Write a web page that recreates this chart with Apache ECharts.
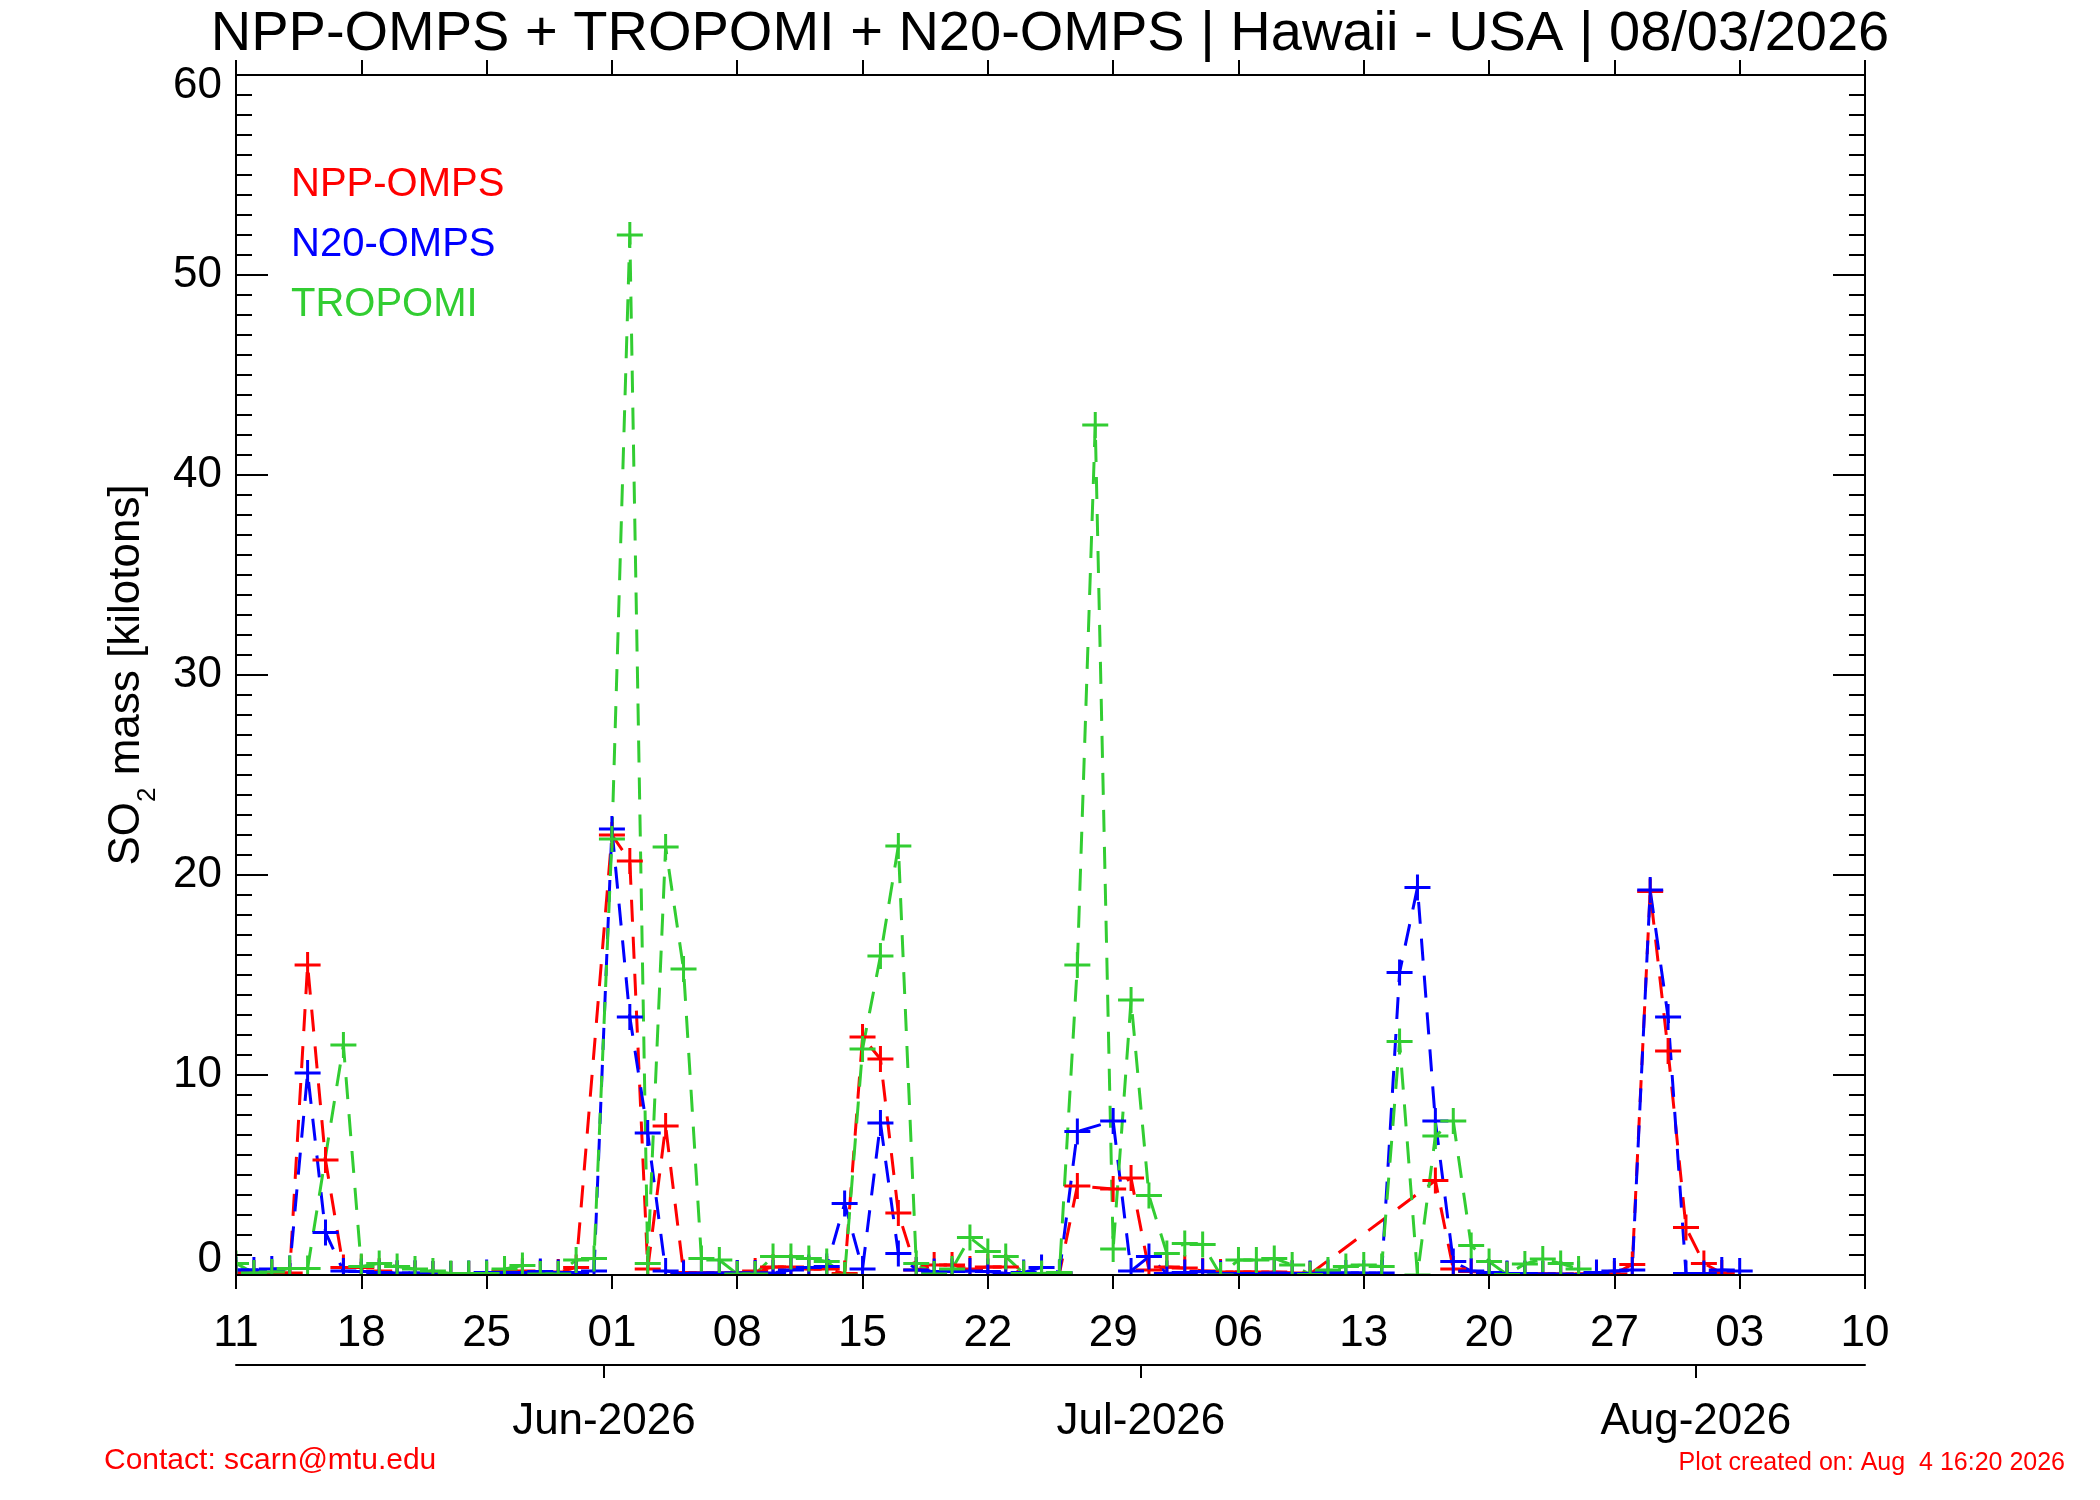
<!DOCTYPE html>
<html>
<head>
    <meta charset="utf-8">
    <title>SO2 mass - Hawaii</title>
    <script src="https://cdn.jsdelivr.net/npm/echarts@6/dist/echarts.min.js"></script>
    <style>
        html, body { margin: 0; padding: 0; background: #fff; }
        #main { width: 2100px; height: 1500px; }
    </style>
</head>
<body>
    <div id="main"></div>
    <script type="text/javascript">
        // daily dates, May 11 - Aug 03 2026
        var dates = [
            '2026-05-11','2026-05-12','2026-05-13','2026-05-14','2026-05-15','2026-05-16','2026-05-17',
            '2026-05-18','2026-05-19','2026-05-20','2026-05-21','2026-05-22','2026-05-23','2026-05-24',
            '2026-05-25','2026-05-26','2026-05-27','2026-05-28','2026-05-29','2026-05-30','2026-05-31',
            '2026-06-01','2026-06-02','2026-06-03','2026-06-04','2026-06-05','2026-06-06','2026-06-07',
            '2026-06-08','2026-06-09','2026-06-10','2026-06-11','2026-06-12','2026-06-13','2026-06-14',
            '2026-06-15','2026-06-16','2026-06-17','2026-06-18','2026-06-19','2026-06-20','2026-06-21',
            '2026-06-22','2026-06-23','2026-06-24','2026-06-25','2026-06-26','2026-06-27','2026-06-28',
            '2026-06-29','2026-06-30','2026-07-01','2026-07-02','2026-07-03','2026-07-04','2026-07-05',
            '2026-07-06','2026-07-07','2026-07-08','2026-07-09','2026-07-10','2026-07-11','2026-07-12',
            '2026-07-13','2026-07-14','2026-07-15','2026-07-16','2026-07-17','2026-07-18','2026-07-19',
            '2026-07-20','2026-07-21','2026-07-22','2026-07-23','2026-07-24','2026-07-25','2026-07-26',
            '2026-07-27','2026-07-28','2026-07-29','2026-07-30','2026-07-31','2026-08-01','2026-08-02',
            '2026-08-03'
        ];

        // SO2 mass [kilotons], null = no retrieval that day
        var nppOmps = [
            0.1, 0.1, 0.1, 0.1, 15.5, 5.75, 0.37,
            0.37, 0.2, 0.05, 0.05, 0.05, 0.05, 0.05,
            0.0, 0.2, 0.2, 0.1, 0.15, 0.37, null,
            22.0, 20.7, 0.3, 7.45, 0.13, 0.1, 0.1,
            0.1, 0.2, 0.4, 0.4, 0.3, 0.3, 0.07,
            11.9, 10.8, 3.1, 0.25, 0.5, 0.5, 0.3,
            0.4, 0.4, 0.05, 0.05, 0.08, 4.45, null,
            4.3, 4.85, 0.25, 0.4, 0.35, 0.2, 0.15,
            0.15, 0.15, 0.15, 0.1, 0.05, null, null,
            null, null, null, null, 4.72, 0.3, 0.17,
            0.12, 0.05, 0.05, 0.05, 0.05, 0.05, 0.05,
            0.05, 0.53, 19.17, 11.2, 2.37, 0.58, 0.1,
            null
        ];
        var n20Omps = [
            0.25, 0.25, 0.3, 0.33, 10.1, 2.13, 0.2,
            0.17, 0.13, 0.1, 0.1, 0.05, 0.05, 0.07,
            0.12, 0.12, 0.13, 0.17, 0.13, 0.13, 0.2,
            22.3, 12.9, 7.1, 0.2, 0.08, 0.1, 0.1,
            0.1, 0.1, 0.1, 0.25, 0.37, 0.42, 3.58,
            0.3, 7.6, 1.08, 0.25, 0.17, 0.17, 0.2,
            0.17, 0.08, 0.13, 0.37, 0.13, 7.17, null,
            7.7, 0.2, 0.92, 0.08, 0.13, 0.17, 0.08,
            0.07, 0.07, 0.1, 0.07, 0.07, 0.13, 0.1,
            0.1, 0.1, 15.13, 19.38, 7.7, 0.67, 0.2,
            0.13, 0.08, 0.08, 0.05, 0.05, 0.03, 0.13,
            0.2, 0.25, 19.25, 12.9, 0.08, 0.08, 0.25,
            0.2
        ];
        var tropomi = [
            0.58, 0.1, 0.15, 0.33, 0.33, null, 11.5,
            0.42, 0.58, 0.42, 0.3, 0.2, 0.08, 0.08,
            0.08, 0.3, 0.47, 0.05, 0.05, 0.75, 0.83,
            21.8, 52.0, 0.58, 21.4, 15.3, 0.83, 0.75,
            0.05, 0.05, 0.92, 0.92, 0.83, 0.67, 0.0,
            11.3, 15.95, 21.45, 0.58, 0.05, 0.3, 1.87,
            1.17, 0.92, 0.08, 0.08, 0.13, 15.5, 42.5,
            1.3, 13.75, 3.97, 1.08, 1.58, 1.53, 0.0,
            0.75, 0.75, 0.83, 0.5, 0.03, 0.25, 0.42,
            0.5, 0.42, 11.68, 0.0, 6.95, 7.7, 1.47,
            0.67, 0.03, 0.55, 0.8, 0.58, 0.3, null,
            null, null, null, null, null, null, null,
            null
        ];

        // axis range and labels
        var startDate = '2026-05-11';
        var totalDays = 91;
        var dayTickLabels = ['11', '18', '25', '01', '08', '15', '22', '29', '06', '13', '20', '27', '03', '10'];
        var monthTickDays = [21, 51, 82];
        var monthTickLabels = ['Jun-2026', 'Jul-2026', 'Aug-2026'];
        var yMin = 0, yMax = 60;

        var fontFamily = '"Liberation Sans", Arial, Helvetica, sans-serif';
        var plusSymbol = 'path://M0,11.5H26V14.5H0Z M11.5,0H14.5V26H11.5Z';

        // plot box in pixels
        var gridLeft = 236, gridRight = 235, gridTop = 75, gridBottom = 225;
        var chartW = 2100, chartH = 1500;

        function dayIndex(d) {
            return Math.round((Date.parse(d) - Date.parse(startDate)) / 86400000);
        }
        function toPairs(values) {
            return dates.map(function (d, i) { return [dayIndex(d), values[i]]; });
        }
        function makeSeries(name, color, values) {
            return {
                name: name,
                type: 'line',
                xAxisIndex: 0,
                yAxisIndex: 0,
                data: toPairs(values),
                connectNulls: true,
                symbol: plusSymbol,
                symbolSize: 26,
                showAllSymbol: true,
                itemStyle: { color: color },
                lineStyle: { color: color, width: 3, type: [22, 15] },
                emphasis: { disabled: true },
                z: 3
            };
        }

        var myChart = echarts.init(document.getElementById('main'));

        var axisColor = '#000';
        var axisZ = 10;
        var plotBottomY = chartH - gridBottom;

        myChart.setOption({
            animation: false,
            backgroundColor: '#fff',
            textStyle: { fontFamily: fontFamily },
            title: [
                {
                    text: 'NPP-OMPS + TROPOMI + N20-OMPS | Hawaii - USA | 08/03/2026',
                    left: 'center',
                    top: 2,
                    textStyle: { fontSize: 56, fontWeight: 'normal', color: '#000', fontFamily: fontFamily }
                },
                {
                    text: 'Contact: scarn@mtu.edu',
                    left: 99,
                    top: 1441,
                    textStyle: { fontSize: 30, fontWeight: 'normal', color: '#ff0000', fontFamily: fontFamily }
                },
                {
                    text: 'Plot created on: Aug  4 16:20 2026',
                    right: 30,
                    top: 1446,
                    textStyle: { fontSize: 25, fontWeight: 'normal', color: '#ff0000', fontFamily: fontFamily }
                }
            ],
            legend: {
                orient: 'vertical',
                left: 281,
                top: 160,
                itemWidth: 0,
                itemHeight: 0,
                itemGap: 20,
                selectedMode: false,
                textStyle: { fontSize: 40, fontFamily: fontFamily },
                data: [
                    { name: 'NPP-OMPS', icon: 'rect', textStyle: { color: '#ff0000' } },
                    { name: 'N20-OMPS', icon: 'rect', textStyle: { color: '#0000ff' } },
                    { name: 'TROPOMI', icon: 'rect', textStyle: { color: '#32cd32' } }
                ]
            },
            // white masks so markers sitting on the frame are cut at the axes
            graphic: [
                {
                    type: 'rect',
                    z: 5,
                    silent: true,
                    shape: { x: gridLeft, y: plotBottomY + 1, width: chartW - gridLeft - gridRight, height: 20 },
                    style: { fill: '#fff' }
                },
                {
                    type: 'rect',
                    z: 5,
                    silent: true,
                    shape: { x: gridLeft - 14, y: plotBottomY - 30, width: 13, height: 51 },
                    style: { fill: '#fff' }
                }
            ],
            grid: { left: gridLeft, right: gridRight, top: gridTop, bottom: gridBottom, containLabel: false },
            xAxis: [
                {
                    type: 'value',
                    position: 'bottom',
                    z: axisZ,
                    min: 0,
                    max: totalDays,
                    interval: 7,
                    axisLine: { show: true, onZero: false, lineStyle: { color: axisColor, width: 2 } },
                    axisTick: { show: true, inside: false, length: 14, lineStyle: { color: axisColor, width: 2 } },
                    axisLabel: {
                        margin: 37,
                        fontSize: 44,
                        color: '#000',
                        fontFamily: fontFamily,
                        formatter: function (v) { return dayTickLabels[Math.round(v / 7)]; }
                    },
                    splitLine: { show: false }
                },
                {
                    type: 'value',
                    position: 'top',
                    z: axisZ,
                    min: 0,
                    max: totalDays,
                    interval: 7,
                    axisLine: { show: true, onZero: false, lineStyle: { color: axisColor, width: 2 } },
                    axisTick: { show: true, inside: false, length: 15, lineStyle: { color: axisColor, width: 2 } },
                    axisLabel: { show: false },
                    splitLine: { show: false }
                },
                {
                    type: 'value',
                    position: 'bottom',
                    z: axisZ,
                    offset: 90,
                    min: 0.45,
                    max: totalDays + 0.45,
                    axisLine: { show: true, onZero: false, lineStyle: { color: axisColor, width: 2 } },
                    axisTick: { show: true, inside: false, length: 13, customValues: monthTickDays, lineStyle: { color: axisColor, width: 2 } },
                    axisLabel: {
                        margin: 35,
                        fontSize: 44,
                        color: '#000',
                        fontFamily: fontFamily,
                        customValues: monthTickDays,
                        formatter: function (v) { return monthTickLabels[monthTickDays.indexOf(v)]; }
                    },
                    splitLine: { show: false }
                }
            ],
            yAxis: [
                {
                    type: 'value',
                    position: 'left',
                    z: axisZ,
                    min: yMin,
                    max: yMax,
                    interval: 10,
                    name: 'SO{sub|2} mass [kilotons]',
                    nameLocation: 'middle',
                    nameGap: 87,
                    nameTextStyle: {
                        fontSize: 44,
                        color: '#000',
                        fontFamily: fontFamily,
                        rich: {
                            sub: { fontSize: 26, verticalAlign: 'bottom', padding: [0, 0, -12, 0], fontFamily: fontFamily }
                        }
                    },
                    axisLine: { show: true, onZero: false, lineStyle: { color: axisColor, width: 2 } },
                    axisTick: { show: true, inside: true, length: 32, lineStyle: { color: axisColor, width: 2 } },
                    minorTick: { show: true, splitNumber: 10, length: 16, lineStyle: { color: axisColor, width: 2 } },
                    axisLabel: {
                        margin: 14,
                        fontSize: 44,
                        color: '#000',
                        fontFamily: fontFamily,
                        // end labels are nudged inside the frame, as in the original plot
                        formatter: function (v) {
                            if (v === yMin) return '{lo|' + v + '}';
                            if (v === yMax) return '{hi|' + v + '}';
                            return '' + v;
                        },
                        rich: {
                            lo: { fontSize: 44, fontFamily: fontFamily, color: '#000', padding: [0, 0, 30, 0] },
                            hi: { fontSize: 44, fontFamily: fontFamily, color: '#000', padding: [22, 0, 0, 0] }
                        }
                    },
                    splitLine: { show: false },
                    minorSplitLine: { show: false }
                },
                {
                    type: 'value',
                    position: 'right',
                    z: axisZ,
                    min: yMin,
                    max: yMax,
                    interval: 10,
                    axisLine: { show: true, onZero: false, lineStyle: { color: axisColor, width: 2 } },
                    axisTick: { show: true, inside: true, length: 32, lineStyle: { color: axisColor, width: 2 } },
                    minorTick: { show: true, splitNumber: 10, length: 16, lineStyle: { color: axisColor, width: 2 } },
                    axisLabel: { show: false },
                    splitLine: { show: false }
                }
            ],
            series: [
                makeSeries('NPP-OMPS', '#ff0000', nppOmps),
                makeSeries('N20-OMPS', '#0000ff', n20Omps),
                makeSeries('TROPOMI', '#32cd32', tropomi)
            ]
        });
    </script>
</body>
</html>
